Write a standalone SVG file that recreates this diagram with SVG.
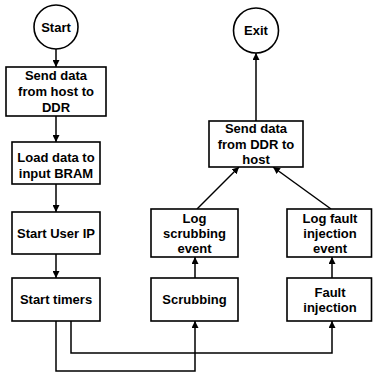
<svg xmlns="http://www.w3.org/2000/svg" width="373" height="372" viewBox="0 0 373 372">
  <style>
    .box { fill: #fff; stroke: #000; stroke-width: 1.6; }
    .lbl { font-family: "Liberation Sans", Arial, sans-serif; font-weight: bold; font-size: 13px; text-anchor: middle; fill: #000; }
    .edge { fill: none; stroke: #000; stroke-width: 1.5; marker-end: url(#arrow); }
  </style>
  <defs>
    <marker id="arrow" viewBox="0 0 10 10" refX="10" refY="5" markerWidth="7" markerHeight="7" markerUnits="userSpaceOnUse" orient="auto">
      <path d="M0,0 L10,5 L0,10 z" fill="#000"/>
    </marker>
  </defs>
  <rect width="373" height="372" fill="#fff"/>

  <g id="connectors">
    <line class="edge" x1="56" y1="49" x2="56" y2="67"/>
    <line class="edge" x1="56" y1="116" x2="56" y2="142"/>
    <line class="edge" x1="56" y1="184" x2="56" y2="212"/>
    <line class="edge" x1="56" y1="254" x2="56" y2="278"/>
    <polyline class="edge" points="56,321 56,371 195,371 195,321"/>
    <polyline class="edge" points="71,321 71,353 332,353 332,321"/>
    <line class="edge" x1="195" y1="278" x2="195" y2="257"/>
    <line class="edge" x1="332" y1="278" x2="332" y2="257"/>
    <line class="edge" x1="197" y1="209" x2="239" y2="167"/>
    <line class="edge" x1="331" y1="209" x2="273" y2="167"/>
    <line class="edge" x1="256" y1="121" x2="256" y2="53"/>
  </g>

  <g id="start">
    <circle class="box" cx="56" cy="27" r="22"/>
    <text class="lbl" x="56" y="31.6">Start</text>
  </g>
  <g id="send-host-ddr">
    <rect class="box" x="6" y="67" width="100" height="49"/>
    <text class="lbl" x="56" y="80">Send data</text>
    <text class="lbl" x="56" y="96">from host to</text>
    <text class="lbl" x="56" y="111.5">DDR</text>
  </g>
  <g id="load-bram">
    <rect class="box" x="12" y="142" width="88" height="42"/>
    <text class="lbl" x="56" y="162">Load data to</text>
    <text class="lbl" x="56" y="177.5">input BRAM</text>
  </g>
  <g id="start-ip">
    <rect class="box" x="12" y="212" width="88" height="42"/>
    <text class="lbl" x="56" y="237.6">Start User IP</text>
  </g>
  <g id="start-timers">
    <rect class="box" x="12" y="278" width="88" height="43"/>
    <text class="lbl" x="56" y="304">Start timers</text>
  </g>
  <g id="scrubbing">
    <rect class="box" x="151" y="278" width="87" height="43"/>
    <text class="lbl" x="194.5" y="304">Scrubbing</text>
  </g>
  <g id="fault-injection">
    <rect class="box" x="287" y="278" width="84.5" height="43"/>
    <text class="lbl" x="330" y="297">Fault</text>
    <text class="lbl" x="330" y="312">injection</text>
  </g>
  <g id="log-scrubbing">
    <rect class="box" x="151" y="209" width="87" height="48"/>
    <text class="lbl" x="194.5" y="222.6">Log</text>
    <text class="lbl" x="194.5" y="237.6">scrubbing</text>
    <text class="lbl" x="194.5" y="252.6">event</text>
  </g>
  <g id="log-fault">
    <rect class="box" x="287" y="209" width="84.5" height="48"/>
    <text class="lbl" x="330" y="222.6">Log fault</text>
    <text class="lbl" x="330" y="237.6">injection</text>
    <text class="lbl" x="330" y="252.6">event</text>
  </g>
  <g id="send-ddr-host">
    <rect class="box" x="209" y="121" width="94" height="46"/>
    <text class="lbl" x="256" y="132.5">Send data</text>
    <text class="lbl" x="256" y="148.5">from DDR to</text>
    <text class="lbl" x="256" y="164">host</text>
  </g>
  <g id="exit">
    <circle class="box" cx="256" cy="30.5" r="22.5"/>
    <text class="lbl" x="256" y="35">Exit</text>
  </g>
</svg>
